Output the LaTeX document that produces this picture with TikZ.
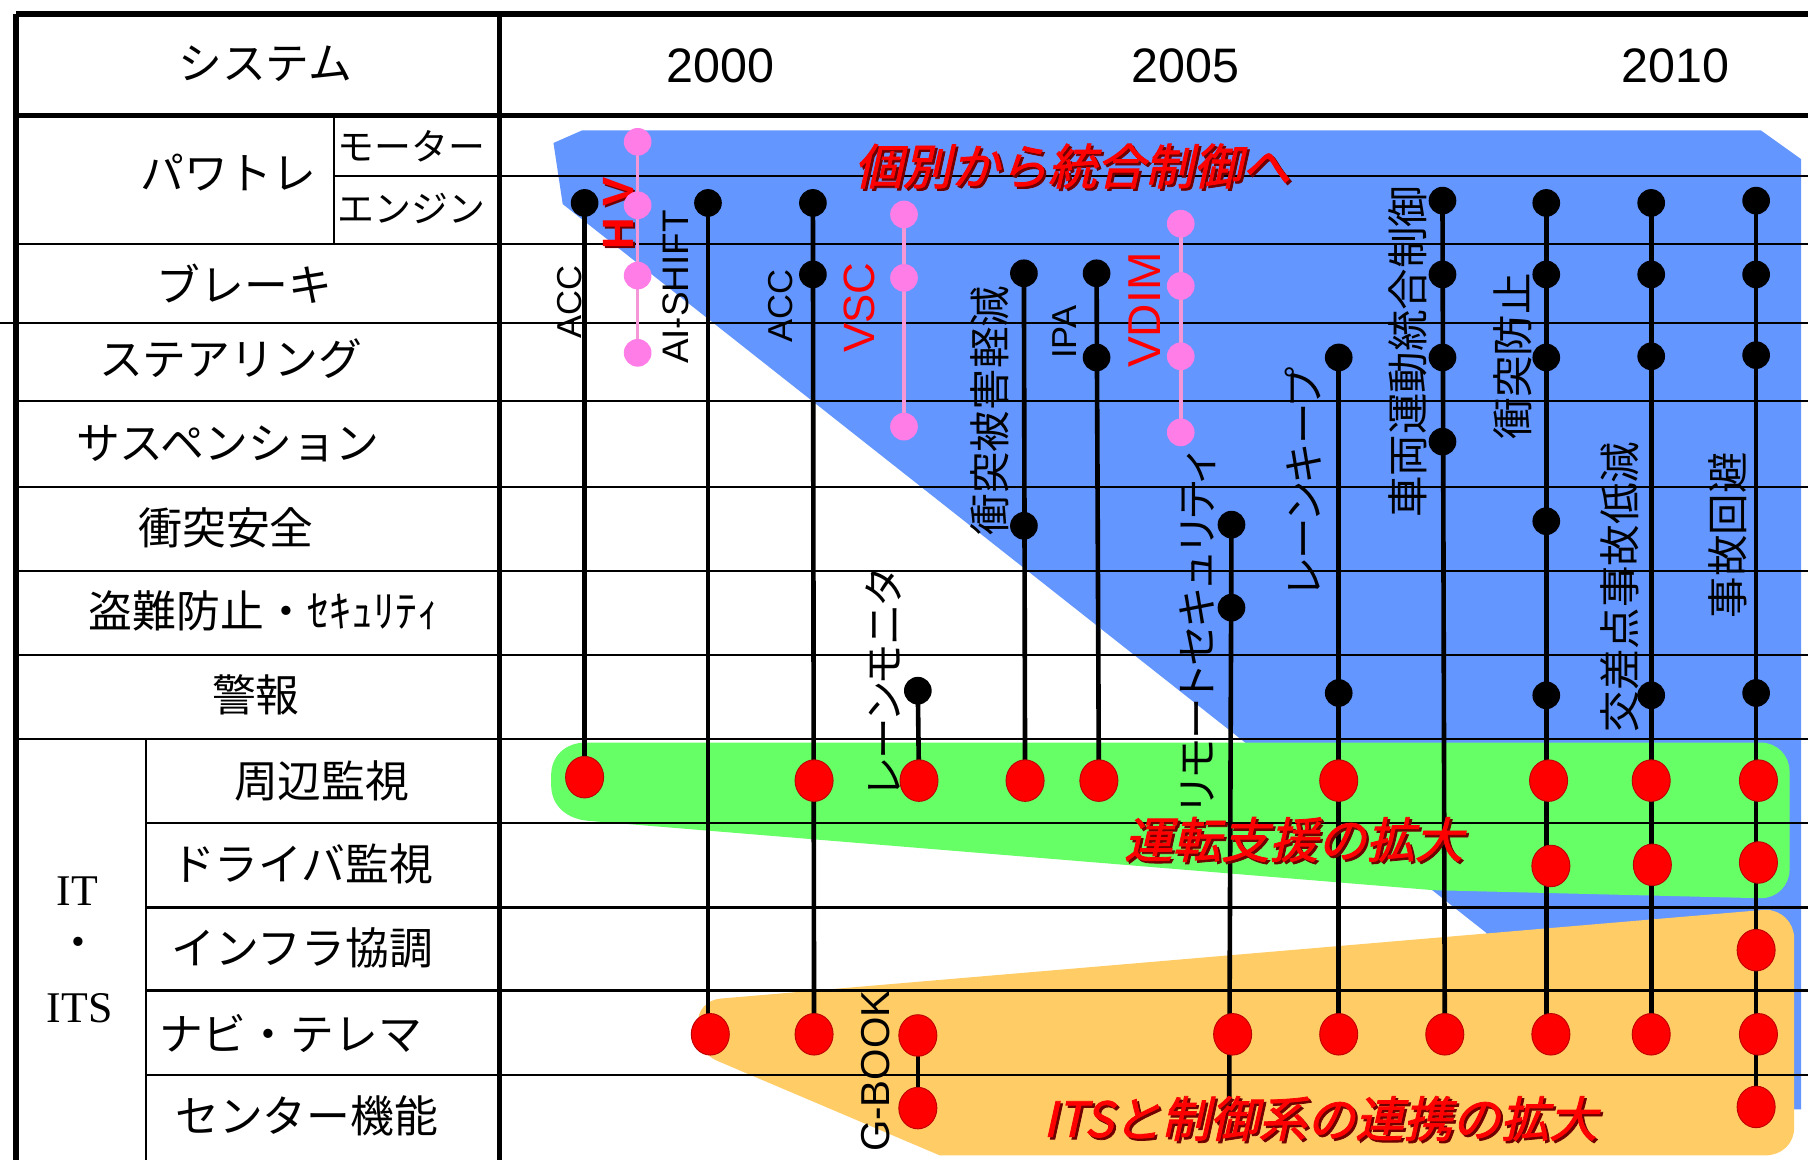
\documentclass[tikz,border=0pt]{standalone}
\usepackage{fontspec}
\usetikzlibrary{shapes.geometric}
\setmainfont{Liberation Sans}
\newfontfamily\jpp[RawFeature=+palt]{Noto Sans CJK JP}
\newfontfamily\jpm{Noto Sans CJK JP}
\newfontfamily\jpbi[FakeSlant=0.22,FakeBold=1.6]{Noto Sans CJK JP}
\newfontfamily\srf{Liberation Serif}
\newfontfamily\lsans{Liberation Sans}
\newcommand\myfs[1]{\fontsize{#1}{#1}\selectfont}
\definecolor{blueR}{RGB}{100,150,255}
\definecolor{greenR}{RGB}{102,255,102}
\definecolor{orangeR}{RGB}{255,204,102}
\definecolor{pinkD}{RGB}{255,125,230}
\definecolor{pinkL}{RGB}{245,150,215}
\definecolor{shadowR}{RGB}{110,0,0}
\pgfdeclarelayer{regions}
\pgfdeclarelayer{gridlayer}
\pgfdeclarelayer{connlayer}
\pgfsetlayers{regions,gridlayer,connlayer,main}
\begin{document}
\begin{tikzpicture}[x=0.5pt,y=-0.5pt,
  bdot/.style={circle,fill=black,minimum size=12pt,inner sep=0pt},
  rdot/.style={ellipse,fill=red,draw=red!75!black,line width=0.4pt,minimum width=16.5pt,minimum height=18pt,inner sep=0pt},
  pdot/.style={circle,fill=pinkD,minimum size=12pt,inner sep=0pt},
  conn/.style={line width=2pt,black},
  pconn/.style={line width=1.6pt,pinkL},
  gridl/.style={line width=0.9pt,black},
  bordl/.style={line width=2.4pt,black},
  rowlab/.style={font=\jpm\myfs{19pt},inner sep=0pt},
  sublab/.style={font=\jpm\myfs{16pt},inner sep=0pt},
  yearlab/.style={font=\lsans\myfs{21pt},inner sep=0pt},
  serlab/.style={font=\srf\myfs{19pt},inner sep=0pt},
  vlab/.style={rotate=90,font=\jpp\myfs{18pt},inner sep=0pt},
  vlat/.style={rotate=90,font=\lsans\myfs{15pt},inner sep=0pt},
  vred/.style={rotate=90,font=\lsans\myfs{19pt},text=red,inner sep=0pt},
  bigred/.style={font=\jpbi\myfs{21pt},text=red,inner sep=0pt},
  redshadow/.style={font=\jpbi\myfs{21pt},text=shadowR,inner sep=0pt},
]
\useasboundingbox (0,0) rectangle (1568,1006);

% ---------- coloured regions ----------
\begin{pgfonlayer}{regions}
\fill[white] (0,0) rectangle (1568,1006);
\fill[blueR] (480,124) -- (505,113) -- (1527,113) -- (1562,138) -- (1562,962)
  -- (1300,962) -- (1289,809) -- (488,177) -- cycle;
\fill[greenR] (508,644) -- (1527,644)
  .. controls (1541,644) and (1552,655) .. (1552,669) -- (1552,754)
  .. controls (1552,768) and (1541,779) .. (1527,779) -- (1243,772) -- (512,712)
  .. controls (492,711) and (478,699) .. (478,681) -- (478,672)
  .. controls (478,656) and (490,644) .. (508,644) -- cycle;
\fill[orangeR] (625,866) -- (1531,789)
  .. controls (1545,789) and (1556,800) .. (1556,814) -- (1556,978)
  .. controls (1556,992) and (1545,1002) .. (1531,1002) -- (815,1002) -- (622,920)
  .. controls (611,915) and (605,906) .. (605,896) -- (605,888)
  .. controls (605,876) and (613,867) .. (625,866) -- cycle;
\end{pgfonlayer}

% ---------- table grid ----------
\begin{pgfonlayer}{gridlayer}
\draw[bordl] (14,12) -- (1568,12);
\draw[bordl] (14,12) -- (14,1006);
\draw[bordl] (14,100) -- (1568,100);
\draw[line width=2pt] (433,12) -- (433,1006);
\draw[gridl] (290,100) -- (290,212);
\draw[gridl] (127,641) -- (127,1006);
\draw[gridl] (290,153) -- (1568,153);
\draw[gridl] (14,212) -- (1568,212);
\draw[gridl] (0,280) -- (1568,280);
\foreach \yy in {348,422,495,568,641}{\draw[gridl] (14,\yy) -- (1568,\yy);}
\foreach \yy in {714,787,859,932}{\draw[gridl] (127,\yy) -- (1568,\yy);}
\end{pgfonlayer}

% ---------- table labels ----------
\node[rowlab] (hSys) at (230,55) {システム};
\node[yearlab] (y2000) at (625,57) {2000};
\node[yearlab] (y2005) at (1028,57) {2005};
\node[yearlab] (y2010) at (1453,57) {2010};
\node[rowlab] (rPT) at (198,150) {パワトレ};
\node[sublab] (rMot) at (357,127) {モーター};
\node[sublab] (rEng) at (357,181) {エンジン};
\node[rowlab] (rBr) at (212,246) {ブレーキ};
\node[rowlab] (rSt) at (200,311) {ステアリング};
\node[rowlab] (rSu) at (198,385) {サスペンション};
\node[rowlab] (rCo) at (196,458) {衝突安全};
\node[rowlab] (rTh) at (229,530) {盗難防止・ｾｷｭﾘﾃｨ};
\node[rowlab] (rWa) at (222,603) {警報};
\node[rowlab] (rPe) at (279,677) {周辺監視};
\node[rowlab] (rDr) at (262,749) {ドライバ監視};
\node[rowlab] (rIn) at (262,822) {インフラ協調};
\node[rowlab] (rNa) at (252,896) {ナビ・テレマ};
\node[rowlab] (rCe) at (266,968) {センター機能};
\node[serlab] (itA) at (67,773) {IT};
\node[rowlab] (itB) at (68,822) {・};
\node[serlab] (itC) at (69,874) {ITS};

% ---------- region captions ----------
\node[redshadow] (t1s) at (932,146) {個別から統合制御へ};
\node[bigred] (t1) at (930,144) {個別から統合制御へ};
\node[redshadow] (t2s) at (1124,730) {運転支援の拡大};
\node[bigred] (t2) at (1122,728) {運転支援の拡大};
\node[redshadow] (t3s) at (1147,972) {ITSと制御系の連携の拡大};
\node[bigred] (t3) at (1145,970) {ITSと制御系の連携の拡大};

% ---------- vertical labels ----------
\node[vlat] (lACC1) at (494,262) {ACC};
\node[vlat,font=\lsans\myfs{16pt}] (lAIS) at (586,249) {AI-SHIFT};
\node[vlat] (lACC2) at (677,265) {ACC};
\node[vred] (lVSC) at (745,267) {VSC};
\node[vlab] (lSHK) at (858,356) {衝突被害軽減};
\node[vlat] (lIPA) at (923,288) {IPA};
\node[vred,font=\lsans\myfs{20pt}] (lVDIM) at (993,269) {VDIM};
\node[vlab] (lRS) at (1039,548) {リモートセキュリティ};
\node[vlab] (lLK) at (1130,418) {レーンキープ};
\node[vlab] (lVD) at (1221,305) {車両運動統合制御};
\node[vlab] (lCP) at (1312,309) {衝突防止};
\node[vlab] (lIX) at (1405,509) {交差点事故低減};
\node[vlab] (lAV) at (1498,464) {事故回避};
\node[vlab] (lLM) at (766,592) {レーンモニタ};
\node[vlat,font=\lsans\myfs{17.5pt}] (lGB) at (759,929) {G-BOOK};
\node[rotate=90,font=\lsans\bfseries\myfs{19pt},text=shadowR,inner sep=0pt] (lHVs) at (538,186.5) {H\kern5pt V};
\node[rotate=90,font=\lsans\bfseries\myfs{19pt},text=red,inner sep=0pt] (lHV) at (536.5,185) {H\kern5pt V};

% ---------- dots ----------
% ACC
\node[bdot] (a1) at (507,176) {};
\node[rdot] (a2) at (507,674) {};
% HV
\node[pdot] (h1) at (553,123) {};
\node[pdot] (h2) at (553,178) {};
\node[pdot] (h3) at (553,239) {};
\node[pdot] (h4) at (553,306) {};
% AI-SHIFT
\node[bdot] (s1) at (614,176) {};
\node[rdot] (s2) at (616,897) {};
% ACC 2
\node[bdot] (b1) at (705,176) {};
\node[bdot] (b2) at (705,238) {};
\node[rdot] (b3) at (706,677) {};
\node[rdot] (b4) at (706,897) {};
% VSC
\node[pdot] (v1) at (784,186) {};
\node[pdot] (v2) at (784,241) {};
\node[pdot] (v3) at (784,370) {};
% lane monitor
\node[bdot] (m1) at (796,599) {};
\node[rdot] (m2) at (797,677) {};
% G-BOOK
\node[rdot] (g1) at (796,898) {};
\node[rdot] (g2) at (796,961) {};
% collision mitigation
\node[bdot] (k1) at (888,237) {};
\node[bdot] (k2) at (888,456) {};
\node[rdot] (k3) at (889,677) {};
% IPA
\node[bdot] (i1) at (951,237) {};
\node[bdot] (i2) at (951,310) {};
\node[rdot] (i3) at (953,677) {};
% VDIM
\node[pdot] (d1) at (1024,194) {};
\node[pdot] (d2) at (1024,248) {};
\node[pdot] (d3) at (1024,309) {};
\node[pdot] (d4) at (1024,375) {};
% remote security
\node[bdot] (r1) at (1068,455) {};
\node[bdot] (r2) at (1068,527) {};
\node[rdot] (r3) at (1069,897) {};
\coordinate (r4) at (1066,962);
% lane keep
\node[bdot] (l1) at (1161,310) {};
\node[bdot] (l2) at (1161,601) {};
\node[rdot] (l3) at (1161,677) {};
\node[rdot] (l4) at (1161,897) {};
% VDIM integrated
\node[bdot] (u1) at (1251,174) {};
\node[bdot] (u2) at (1251,238) {};
\node[bdot] (u3) at (1251,310) {};
\node[bdot] (u4) at (1251,383) {};
\node[rdot] (u5) at (1253,897) {};
% collision prevention
\node[bdot] (p1) at (1341,176) {};
\node[bdot] (p2) at (1341,238) {};
\node[bdot] (p3) at (1341,310) {};
\node[bdot] (p4) at (1341,452) {};
\node[bdot] (p5) at (1341,603) {};
\node[rdot] (p6) at (1343,677) {};
\node[rdot] (p7) at (1345,751) {};
\node[rdot] (p8) at (1345,897) {};
% intersection
\node[bdot] (x1) at (1432,176) {};
\node[bdot] (x2) at (1432,238) {};
\node[bdot] (x3) at (1432,309) {};
\node[bdot] (x4) at (1432,603) {};
\node[rdot] (x5) at (1432,677) {};
\node[rdot] (x6) at (1433,750) {};
\node[rdot] (x7) at (1432,897) {};
% avoidance
\node[bdot] (z1) at (1523,174) {};
\node[bdot] (z2) at (1523,238) {};
\node[bdot] (z3) at (1523,308) {};
\node[bdot] (z4) at (1523,601) {};
\node[rdot] (z5) at (1525,677) {};
\node[rdot] (z6) at (1525,748) {};
\node[rdot] (z7) at (1523,824) {};
\node[rdot] (z8) at (1525,897) {};
\node[rdot] (z9) at (1523,960) {};

% ---------- connectors ----------
\begin{pgfonlayer}{connlayer}
\draw[conn] (a1.center) -- (a2.center);
\draw[pconn] (h1.center) -- (h4.center);
\draw[conn] (s1.center) -- (s1.center |- s2.center);
\draw[conn] (b1.center) -- (b4.center);
\draw[pconn] (v1.center) -- (v3.center);
\draw[conn] (m1.center) -- (m2.center);
\draw[conn] (g1.center) -- (g2.center);
\draw[conn] (k1.center) -- (k3.center);
\draw[conn] (i1.center) -- (i3.center);
\draw[pconn] (d1.center) -- (d4.center);
\draw[conn] (r1.center) -- (r4);
\draw[conn] (l1.center) -- (l4.center);
\draw[conn] (u1.center) -- (u5.center);
\draw[conn] (p1.center) -- (p1.center |- p8.center);
\draw[conn] (x1.center) -- (x7.center);
\draw[conn] (z1.center) -- (z9.center);
\end{pgfonlayer}
\end{tikzpicture}
\end{document}
